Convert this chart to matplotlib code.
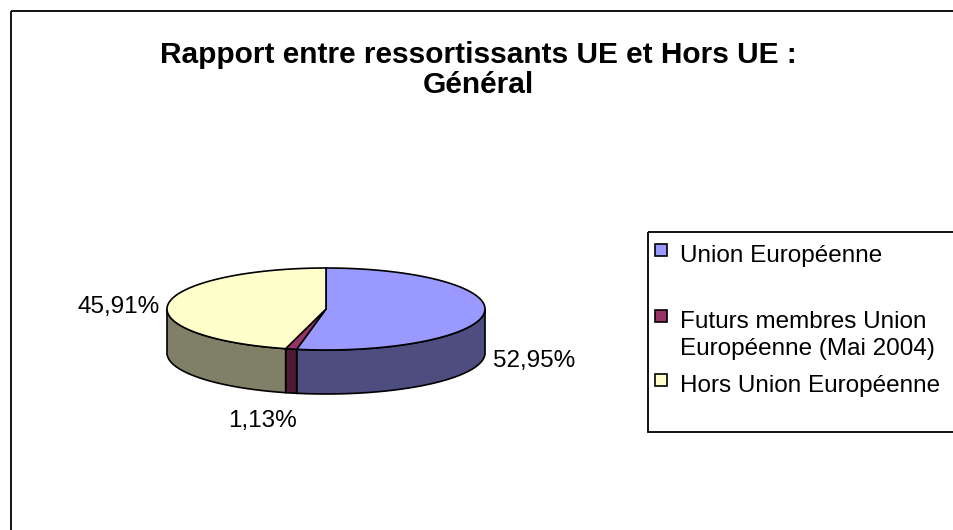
import numpy as np
import matplotlib.pyplot as plt
from matplotlib.patches import Polygon, Rectangle

plt.rcParams['font.family'] = ['Liberation Sans', 'DejaVu Sans']

title_lines = ['Rapport entre ressortissants UE et Hors UE :', 'Général']
categories = ['Union Européenne', 'Futurs membres Union\nEuropéenne (Mai 2004)', 'Hors Union Européenne']
shares = [52.95, 1.13, 45.91]
labels = ['52,95%', '1,13%', '45,91%']
top_colors = ['#9999ff', '#993366', '#ffffcc']
side_colors = ['#4d4d80', '#4d1a33', '#808066']

W, H = 954, 530
fig = plt.figure(figsize=(W / 100, H / 100), dpi=100)
ax = fig.add_axes([0, 0, 1, 1])
ax.set_xlim(0, W)
ax.set_ylim(H, 0)
ax.axis('off')

# chart border (runs off the right / bottom edge)
ax.add_patch(Rectangle((11, 11), W + 20, H + 20, fill=False, lw=1.3, ec='black'))

for k, line in enumerate(title_lines):
    ax.text(478, 63 + 30 * k, line, ha='center', va='baseline', fontsize=21.5, fontweight='bold')

# 3D pie geometry (pixels)
cx, cy, a, b, depth = 326, 309, 159, 41, 44


def pt(theta, dy=0.0):
    # theta in degrees, clockwise from 12 o'clock
    t = np.radians(theta)
    return cx + a * np.sin(t), cy - b * np.cos(t) + dy


fracs = np.array(shares) / np.sum(shares)
edges = np.concatenate([[0], np.cumsum(fracs) * 360])

# side walls (front half only: 90..270 deg)
for i in range(len(shares)):
    lo, hi = max(edges[i], 90), min(edges[i + 1], 270)
    if hi <= lo:
        continue
    th = np.linspace(lo, hi, 80)
    upper = [pt(t) for t in th]
    lower = [pt(t, depth) for t in th[::-1]]
    ax.add_patch(Polygon(upper + lower, closed=True, fc=side_colors[i], ec='black', lw=1.2,
                         joinstyle='miter'))

# top faces
for i in range(len(shares)):
    th = np.linspace(edges[i], edges[i + 1], 200)
    verts = [(cx, cy)] + [pt(t) for t in th]
    ax.add_patch(Polygon(verts, closed=True, fc=top_colors[i], ec='black', lw=1.2,
                         joinstyle='miter'))

# data labels
for i, lab in enumerate(labels):
    mid = (edges[i] + edges[i + 1]) / 2
    t = np.radians(mid)
    s, c = np.sin(t), np.cos(t)
    x = cx + a * 1.1 * s
    y = cy - b * 1.1 * c
    if c < 0:
        y += depth
    if abs(s) > 0.5:
        ha = 'left' if s > 0 else 'right'
        x -= 7 * np.sign(s)
        y += 10
    else:
        ha = 'center'
        x -= 25
        y += 30
    ax.text(x, y, lab, ha=ha, va='baseline', fontsize=17.5)

# legend
ax.add_patch(Rectangle((648, 232), 330, 200, fill=False, lw=1.3, ec='black'))
leg_base = [262, 328, 392]
line_gap = 27
for i, name in enumerate(categories):
    ax.add_patch(Rectangle((655, leg_base[i] - 18), 12, 12, fc=top_colors[i], ec='black', lw=1.2))
    for j, line in enumerate(name.split('\n')):
        ax.text(680, leg_base[i] + line_gap * j, line, ha='left', va='baseline', fontsize=17.5)

fig.savefig('out.png', dpi=100)
